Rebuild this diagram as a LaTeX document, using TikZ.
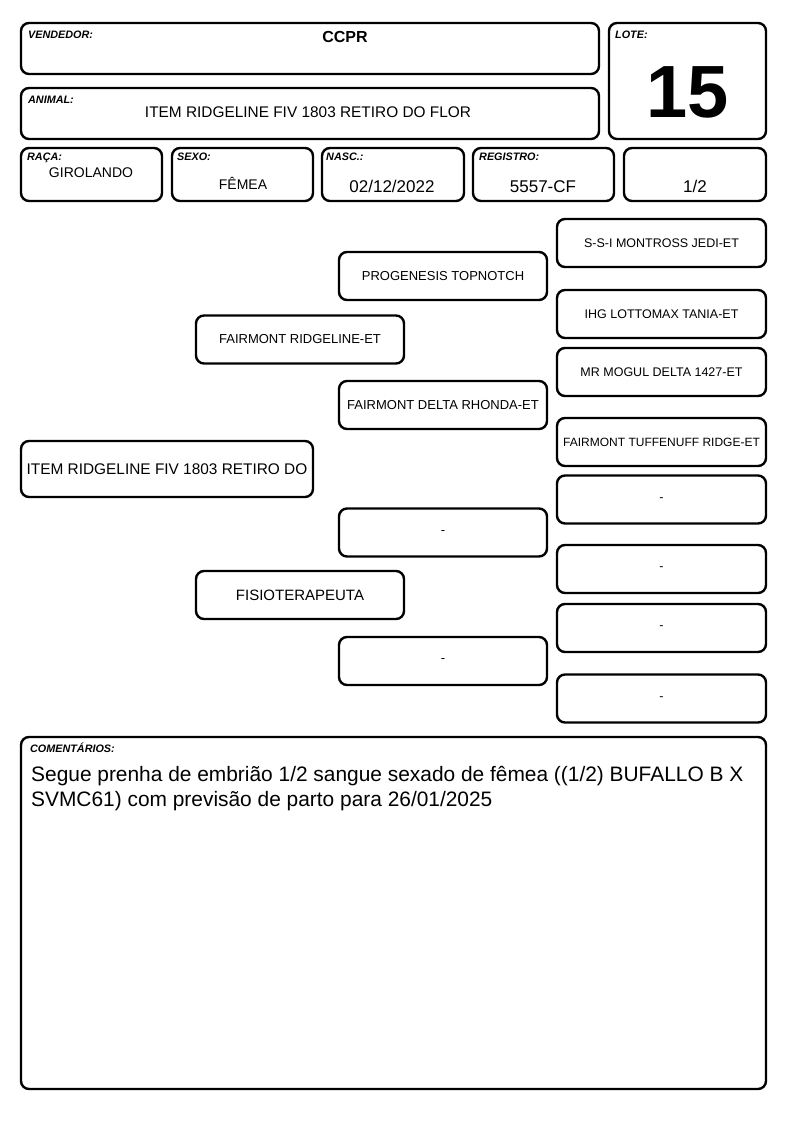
\documentclass[tikz,border=0pt]{standalone}
\usepackage{fontspec}
\setmainfont{Liberation Sans}
\begin{document}
\begin{tikzpicture}[x=1pt,y=-1pt,
  box/.style={draw=black, line width=2.4pt, rounded corners=8pt, inner sep=0pt, fill=white},
  lbl/.style={anchor=base west, inner sep=0pt, font=\fontsize{10.8}{12}\selectfont\bfseries\itshape},
  ped/.style={box, text=black, font=\fontsize{13}{15}\selectfont},
  gen3/.style={ped, minimum width=209pt, minimum height=48pt, font=\fontsize{12.5}{15}\selectfont},
  gen2/.style={ped, minimum width=208pt, minimum height=48pt},
  gen1/.style={ped, minimum width=208pt, minimum height=48pt},
  val/.style={anchor=base, inner sep=0pt}
]
\useasboundingbox[fill=white] (0,0) rectangle (794,1123);

% header boxes
\node[box, minimum width=578pt, minimum height=51pt] (vend) at (310,48.5) {};
\node[box, minimum width=578pt, minimum height=51pt] (anim) at (310,113.5) {};
\node[box, minimum width=157pt, minimum height=116pt] (lote) at (687.5,81) {};
\node[box, minimum width=141pt, minimum height=53pt] (raca) at (91.5,174.5) {};
\node[box, minimum width=141pt, minimum height=53pt] (sexo) at (242.5,174.5) {};
\node[box, minimum width=142pt, minimum height=53pt] (nasc) at (393,174.5) {};
\node[box, minimum width=141pt, minimum height=53pt] (reg) at (543.5,174.5) {};
\node[box, minimum width=142pt, minimum height=53pt] (frac) at (695,174.5) {};

\node[lbl] (lvend) at (28,39) {VENDEDOR:};
\node[val, font=\fontsize{16}{18}\selectfont\bfseries] (tvend) at (345,43) {CCPR};
\node[lbl] (lanim) at (28,104) {ANIMAL:};
\node[val, font=\fontsize{15.4}{18}\selectfont] (tanim) at (308,118) {ITEM RIDGELINE FIV 1803 RETIRO DO FLOR};
\node[lbl] (llote) at (615,39) {LOTE:};
\node[val, font=\fontsize{74}{80}\selectfont\bfseries] (tlote) at (688,118) {15};
\node[lbl] (lraca) at (27,161) {RAÇA:};
\node[val, font=\fontsize{14}{16}\selectfont] (traca) at (91,177.5) {GIROLANDO};
\node[lbl] (lsexo) at (177,161) {SEXO:};
\node[val, font=\fontsize{14}{16}\selectfont] (tsexo) at (243,189.5) {FÊMEA};
\node[lbl] (lnasc) at (326,161) {NASC.:};
\node[val, font=\fontsize{17}{19}\selectfont] (tnasc) at (392,192.5) {02/12/2022};
\node[lbl] (lreg) at (479,161) {REGISTRO:};
\node[val, font=\fontsize{17}{19}\selectfont] (treg) at (543,192.5) {5557-CF};
\node[val, font=\fontsize{17}{19}\selectfont] (tfrac) at (695,192.5) {1/2};

% pedigree
\node[ped, minimum width=292pt, minimum height=56pt, font=\fontsize{15.4}{18}\selectfont] (p0) at (167,469) {ITEM RIDGELINE FIV 1803 RETIRO DO};
\node[gen1] (p1) at (300,339.5) {FAIRMONT RIDGELINE-ET};
\node[gen1, font=\fontsize{15}{17}\selectfont] (p2) at (300,595) {FISIOTERAPEUTA};
\node[gen2] (p11) at (443,276) {PROGENESIS TOPNOTCH};
\node[gen2] (p12) at (443,405) {FAIRMONT DELTA RHONDA-ET};
\node[gen2] (p21) at (443,532.5) {-};
\node[gen2] (p22) at (443,661) {-};
\node[gen3] (p111) at (661.5,243) {S-S-I MONTROSS JEDI-ET};
\node[gen3] (p112) at (661.5,314) {IHG LOTTOMAX TANIA-ET};
\node[gen3] (p121) at (661.5,372) {MR MOGUL DELTA 1427-ET};
\node[gen3, font=\fontsize{12}{14}\selectfont] (p122) at (661.5,442) {FAIRMONT TUFFENUFF RIDGE-ET};
\node[gen3] (p211) at (661.5,499.5) {-};
\node[gen3] (p212) at (661.5,569) {-};
\node[gen3] (p221) at (661.5,628) {-};
\node[gen3] (p222) at (661.5,698.5) {-};

% comments
\node[box, minimum width=745pt, minimum height=352pt] (com) at (393.5,913) {};
\node[lbl] (lcom) at (30,752) {COMENTÁRIOS:};
\node[anchor=base west, inner sep=0pt, font=\fontsize{20.9}{25}\selectfont] (tcom1) at (31,781) {Segue prenha de embrião 1/2 sangue sexado de fêmea ((1/2) BUFALLO B X};
\node[anchor=base west, inner sep=0pt, font=\fontsize{20.9}{25}\selectfont] (tcom2) at (31,806) {SVMC61) com previsão de parto para 26/01/2025};
\end{tikzpicture}
\end{document}
